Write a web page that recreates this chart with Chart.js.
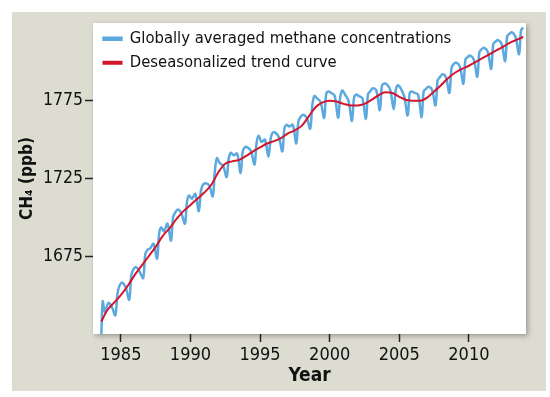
<!DOCTYPE html>
<html lang="en">
<head>
<meta charset="UTF-8">
<title>Methane concentrations</title>
<script src="https://cdn.jsdelivr.net/npm/chart.js"></script>
<style>
    html, body { margin: 0; padding: 0; background: #fff; }
    #wrap { width: 550px; height: 397px; }
</style>
</head>
<body>
<div id="wrap"><canvas id="ch4Chart" width="550" height="397"></canvas></div>

<script>
    // deseasonalized trend (ppb)
    var trendYears = [1983.6, 1984, 1984.5, 1985, 1985.5, 1986, 1986.5, 1987, 1987.5, 1988, 1988.5, 1989, 1989.5,
        1990, 1990.5, 1991, 1991.5, 1992, 1992.5, 1993, 1993.5, 1994, 1994.5, 1995, 1995.5, 1996, 1996.5,
        1997, 1997.5, 1998, 1998.5, 1999, 1999.5, 2000, 2000.5, 2001, 2001.5, 2002, 2002.5, 2003, 2003.5,
        2004, 2004.5, 2005, 2005.5, 2006, 2006.5, 2007, 2007.5, 2008, 2008.5, 2009, 2009.5, 2010, 2010.5,
        2011, 2011.5, 2012, 2012.5, 2013, 2013.5, 2013.9];
    var trendValues = [1633, 1640, 1645, 1650, 1656, 1663, 1669, 1675, 1681, 1688, 1693, 1699, 1704,
        1708, 1712, 1716, 1721, 1729, 1734.5, 1736, 1737, 1739.5, 1742.5, 1745, 1747.5, 1749, 1751,
        1754, 1756, 1759, 1765, 1771, 1774, 1775, 1774.5, 1773, 1772, 1772, 1773, 1775.5, 1778.5,
        1780.5, 1780, 1777.5, 1775.5, 1775, 1775, 1777, 1781, 1785, 1789.5, 1793, 1795.5, 1797.5, 1800,
        1802.5, 1805, 1807.5, 1810, 1812.5, 1814.5, 1816];

    // globally averaged concentrations (ppb), one row per year
    var globalYears = [1983.6, 1983.7, 1983.85,
        1984.1, 1984.35, 1984.6, 1984.75, 1984.9,
        1985.1, 1985.35, 1985.6, 1985.75, 1985.9,
        1986.1, 1986.35, 1986.6, 1986.75, 1986.9,
        1987.1, 1987.35, 1987.6, 1987.75, 1987.9,
        1988.1, 1988.35, 1988.6, 1988.75, 1988.9,
        1989.1, 1989.35, 1989.6, 1989.75, 1989.9,
        1990.1, 1990.35, 1990.6, 1990.75, 1990.9,
        1991.1, 1991.35, 1991.6, 1991.75, 1991.9,
        1992.1, 1992.35, 1992.6, 1992.75, 1992.9,
        1993.1, 1993.35, 1993.6, 1993.75, 1993.9,
        1994.1, 1994.35, 1994.6, 1994.75, 1994.9,
        1995.1, 1995.35, 1995.6, 1995.75, 1995.9,
        1996.1, 1996.35, 1996.6, 1996.75, 1996.9,
        1997.1, 1997.35, 1997.6, 1997.75, 1997.9,
        1998.1, 1998.35, 1998.6, 1998.75, 1998.9,
        1999.1, 1999.35, 1999.6, 1999.75, 1999.9,
        2000.1, 2000.35, 2000.6, 2000.75, 2000.9,
        2001.1, 2001.35, 2001.6, 2001.75, 2001.9,
        2002.1, 2002.35, 2002.6, 2002.75, 2002.9,
        2003.1, 2003.35, 2003.6, 2003.75, 2003.9,
        2004.1, 2004.35, 2004.6, 2004.75, 2004.9,
        2005.1, 2005.35, 2005.6, 2005.75, 2005.9,
        2006.1, 2006.35, 2006.6, 2006.75, 2006.9,
        2007.1, 2007.35, 2007.6, 2007.75, 2007.9,
        2008.1, 2008.35, 2008.6, 2008.75, 2008.9,
        2009.1, 2009.35, 2009.6, 2009.75, 2009.9,
        2010.1, 2010.35, 2010.6, 2010.75, 2010.9,
        2011.1, 2011.35, 2011.6, 2011.75, 2011.9,
        2012.1, 2012.35, 2012.6, 2012.75, 2012.9,
        2013.1, 2013.35, 2013.6, 2013.75, 2013.9];
    var globalValues = [1625, 1646, 1639,
        1645, 1642.5, 1637, 1650.5, 1656,
        1658, 1655, 1647, 1662.5, 1666.5,
        1668, 1665, 1661, 1676, 1679,
        1680, 1683, 1673.5, 1689.5, 1693.5,
        1691, 1696, 1685, 1700, 1703,
        1705, 1702.5, 1696, 1710, 1714,
        1712, 1715, 1704, 1717, 1721,
        1722, 1720.5, 1713.5, 1729.5, 1738,
        1735, 1733, 1726, 1738, 1741.5,
        1740, 1741, 1728.5, 1742, 1745,
        1745, 1742.5, 1734, 1748, 1752.5,
        1748.5, 1750, 1739, 1750, 1754.5,
        1754.5, 1751.5, 1742.5, 1757.5, 1759.5,
        1758.5, 1759.5, 1747.5, 1761.5, 1764.5,
        1766, 1764, 1757, 1772, 1778,
        1776.5, 1774, 1764, 1779.5, 1781,
        1780, 1778.5, 1764, 1777, 1781.5,
        1779, 1775, 1762, 1777, 1779,
        1778, 1776.5, 1763.5, 1779, 1781,
        1783, 1781.5, 1769, 1784.5, 1786,
        1785.5, 1782, 1769.5, 1782, 1785,
        1783, 1778, 1765.5, 1780, 1781,
        1780, 1779, 1764.5, 1781, 1782.5,
        1784, 1782, 1772, 1788, 1790,
        1792, 1790, 1780, 1796, 1798.5,
        1799.5, 1797, 1786, 1801.5, 1803,
        1804, 1801.5, 1790.5, 1806, 1808,
        1809, 1806.5, 1795.5, 1811.5, 1813,
        1814, 1811.5, 1800.5, 1816.5, 1818,
        1819, 1816, 1805, 1820.5, 1822];

    var xTicks = [1985, 1990, 1995, 2000, 2005, 2010];
    var yTicks = [1675, 1725, 1775];

    var blue = '#5ca9df';
    var red = '#d2162b';
    var font = "'DejaVu Sans Condensed', 'DejaVu Sans', sans-serif";

    function points(xs, ys) {
        return xs.map(function (x, i) { return { x: x, y: ys[i] }; });
    }

    // grey panel + white plot box with a soft shadow
    var panelBg = {
        id: 'panelBg',
        afterLayout: function (chart) {
            // keep the legend inside the top-left corner of the plot box
            var lg = chart.legend;
            lg.top = chart.chartArea.top;
            lg.bottom = chart.chartArea.bottom;
            lg.left = chart.chartArea.left + 3;
        },
        beforeDraw: function (chart) {
            var c = chart.ctx, a = chart.chartArea;
            c.save();
            c.fillStyle = '#ffffff';
            c.fillRect(0, 0, chart.width, chart.height);
            c.fillStyle = '#dcdcd0';
            c.fillRect(12, 12, 534, 379);
            c.shadowColor = 'rgba(0,0,0,0.3)';
            c.shadowBlur = 5;
            c.shadowOffsetX = 2;
            c.shadowOffsetY = 2;
            c.fillStyle = '#ffffff';
            c.fillRect(a.left, a.top, a.right - a.left, a.bottom - a.top);
            c.restore();
        }
    };

    var ctx = document.getElementById('ch4Chart').getContext('2d');
    var ch4Chart = new Chart(ctx, {
        type: 'line',
        data: {
            datasets: [{
                label: 'Globally averaged methane concentrations',
                data: points(globalYears, globalValues),
                borderColor: blue,
                backgroundColor: blue,
                borderWidth: 2.5,
                pointRadius: 0,
                tension: 0.35,
                order: 2
            }, {
                label: 'Deseasonalized trend curve',
                data: points(trendYears, trendValues),
                borderColor: red,
                backgroundColor: red,
                borderWidth: 2,
                pointRadius: 0,
                cubicInterpolationMode: 'monotone',
                order: 1
            }]
        },
        options: {
            responsive: false,
            animation: false,
            layout: { padding: { left: 12, top: 23, right: 24, bottom: 6 } },
            plugins: {
                tooltip: { enabled: false },
                legend: {
                    position: 'chartArea',
                    align: 'start',
                    labels: {
                        color: '#111',
                        font: { family: font, size: 16.5 },
                        boxWidth: 18,
                        boxHeight: 2,
                        padding: 7.5,
                        sort: function (a, b) { return a.datasetIndex - b.datasetIndex; }
                    }
                }
            },
            scales: {
                x: {
                    type: 'linear',
                    min: 1983,
                    max: 2014.1,
                    afterBuildTicks: function (s) { s.ticks = xTicks.map(function (v) { return { value: v }; }); },
                    afterFit: function (s) { s.height = 57; },
                    grid: { drawOnChartArea: false, tickLength: 8, tickColor: '#222', tickWidth: 1.5 },
                    border: { display: false },
                    ticks: { color: '#111', padding: 3, maxRotation: 0, font: { family: font, size: 18 },
                        callback: function (v) { return String(v); } },
                    title: { display: true, text: 'Year', color: '#111', padding: { top: 0, bottom: 4 },
                        font: { family: font, size: 19, weight: 'bold' } }
                },
                y: {
                    type: 'linear',
                    min: 1625,
                    max: 1825,
                    afterBuildTicks: function (s) { s.ticks = yTicks.map(function (v) { return { value: v }; }); },
                    afterFit: function (s) { s.width = 81; },
                    grid: { drawOnChartArea: false, tickLength: 8, tickColor: '#222', tickWidth: 1.5 },
                    border: { display: false },
                    ticks: { color: '#111', padding: 2, font: { family: font, size: 17.5 },
                        callback: function (v) { return String(v); } },
                    title: { display: true, text: 'CH\u2084 (ppb)', color: '#111', padding: { top: 5, bottom: 0 },
                        font: { family: font, size: 17, weight: 'bold' } }
                }
            }
        },
        plugins: [panelBg]
    });
</script>
</body>
</html>
